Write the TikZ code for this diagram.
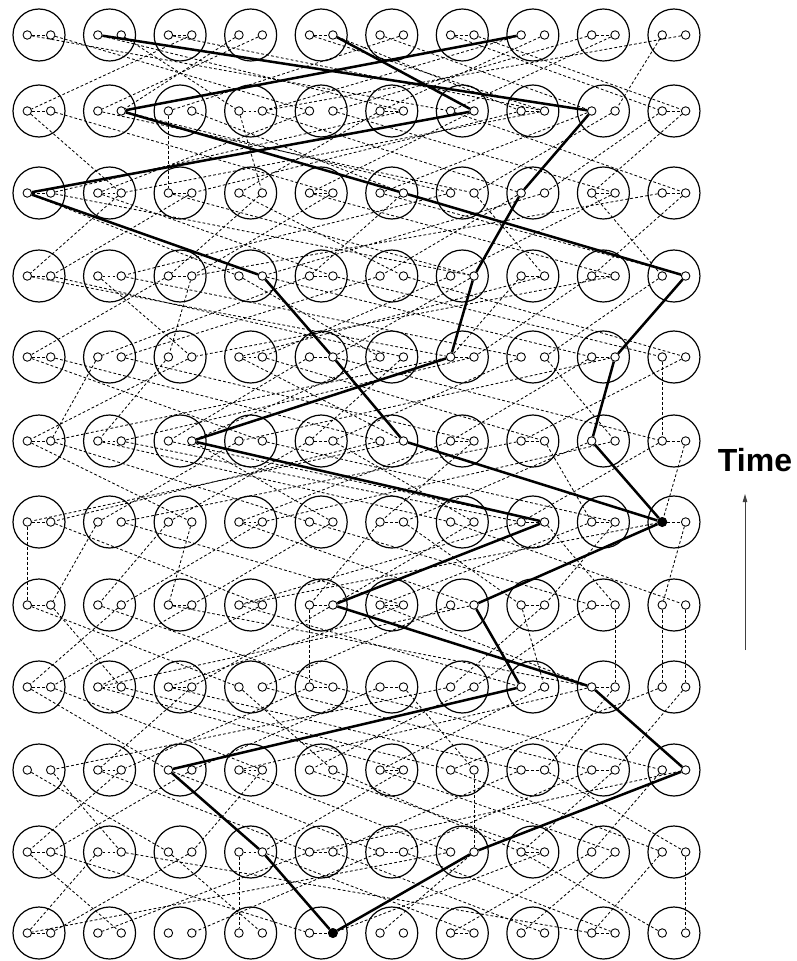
\documentclass[tikz,border=0pt]{standalone}
\usepackage{fontspec}
\setsansfont{Liberation Sans}
\usepackage{tikz}
\usetikzlibrary{arrows.meta}
\tikzset{
  host/.style={circle,draw,line width=1.2pt,minimum size=52pt,inner sep=0pt},
  proc/.style={circle,draw,line width=0.9pt,minimum size=8.5pt,inner sep=0pt},
  hit/.style={circle,fill,minimum size=10pt,inner sep=0pt},
  msg/.style={line width=0.85pt,dash pattern=on 2.8pt off 2.2pt},
  route/.style={line width=2.5pt,line join=round},
}

\begin{document}
\begin{tikzpicture}[x=1pt,y=-1pt]
  \useasboundingbox (0,0) rectangle (797,961);
  % grid of hosts, two processes each
  \foreach \y [count=\r] in {35,111,193,276,357,441,522,605,687,770,852,933} {
    \foreach \c in {1,...,10} {
      \pgfmathsetmacro\x{39+70.55*(\c-1)}
      \pgfmathtruncatemacro\kl{2*\c-1}
      \pgfmathtruncatemacro\kr{2*\c}
      \node[host] (h-\r-\c) at (\x,\y) {};
      \node[proc] (p-\r-\kl) at (\x-11.7,\y) {};
      \node[proc] (p-\r-\kr) at (\x+11.7,\y) {};
    }
  }
  \node[hit] (src) at (p-12-10) {};
  \node[hit] (relay) at (p-7-19) {};

  % messages inside one host
  \foreach \r/\c in {1/1,1/3,1/5,1/7,1/9,2/1,2/4,2/6,2/8,2/10,3/1,3/2,3/3,3/5,3/9,3/10,
      4/1,4/2,4/3,4/5,4/8,4/9,5/1,5/4,5/5,5/7,5/9,6/1,6/2,6/5,6/7,6/8,6/10,
      7/1,7/4,7/6,7/8,7/9,7/10,8/1,8/3,8/5,8/6,8/8,8/9,9/1,9/2,9/3,9/5,9/6,9/9,
      10/2,10/4,10/6,10/8,10/9,11/1,11/2,11/4,11/5,11/6,11/8,12/1,12/5,12/7,12/9} {
    \pgfmathtruncatemacro\kl{2*\c-1}
    \pgfmathtruncatemacro\kr{2*\c}
    \draw[msg] (p-\r-\kl) -- (p-\r-\kr);
  }

  % messages between rounds
  \foreach \a/\b in {2/9,3/12,4/7,6/1,7/4,9/16,10/15,12/5,14/20,15/8,16/11,17/10,18/13,19/18,20/8,1/13,5/16,8/3,11/17,13/19}
    \draw[msg] (p-1-\a) -- (p-2-\b);
  \foreach \a/\b in {1/4,2/10,3/14,4/13,5/5,6/12,8/15,9/3,10/18,11/7,12/2,13/20,14/9,15/6,16/4,17/11,18/14,19/16,20/17,7/8}
    \draw[msg] (p-2-\a) -- (p-3-\b);
  \foreach \a/\b in {1/7,2/14,3/10,4/1,5/14,6/2,7/12,8/5,9/18,10/6,11/20,12/9,13/4,14/16,15/11,16/8,17/19,18/13,19/6,20/17}
    \draw[msg] (p-3-\a) -- (p-4-\b);
  \foreach \a/\b in {6/5,1/13,2/12,3/6,4/15,5/1,7/11,8/17,9/3,10/19,11/4,12/20,13/8,14/10,15/13,16/7,17/14,18/6,19/16,20/18}
    \draw[msg] (p-4-\a) -- (p-5-\b);
  \foreach \a/\b in {3/2,5/3,1/8,2/11,4/14,6/1,7/12,8/16,9/5,10/19,11/6,12/9,13/2,14/4,15/10,16/18,17/13,18/7,19/19,20/15}
    \draw[msg] (p-5-\a) -- (p-6-\b);
  \foreach \a/\b in {1/6,2/9,3/13,4/15,5/16,6/10,7/3,8/18,9/5,10/14,11/2,12/1,13/7,14/11,15/4,16/17,17/12,18/8,19/15,20/19}
    \draw[msg] (p-6-\a) -- (p-7-\b);
  \foreach \a/\b in {1/1,3/2,5/3,2/8,4/12,6/5,7/14,8/4,9/17,10/6,11/9,12/15,13/20,14/10,15/7,16/18,17/11,18/16,19/7,20/19}
    \draw[msg] (p-7-\a) -- (p-8-\b);
  \foreach \a/\b in {19/19,20/20,9/9,1/7,2/4,3/10,4/1,5/17,6/2,7/15,8/3,10/6,11/17,12/5,13/8,14/3,15/16,16/13,17/14,18/18}
    \draw[msg] (p-8-\a) -- (p-9-\b);
  \foreach \a/\b in {1/5,2/8,3/12,4/13,5/15,6/3,7/10,8/17,9/4,10/19,11/6,12/14,13/2,14/9,15/5,16/11,17/7,18/16,19/13,20/18}
    \draw[msg] (p-9-\a) -- (p-10-\b);
  \foreach \a/\b in {14/14,1/5,2/4,3/9,4/1,5/11,6/2,7/13,8/6,9/16,10/15,11/18,12/8,13/19,15/10,16/20,17/12,18/15,19/17,20/9}
    \draw[msg] (p-10-\a) -- (p-11-\b);
  \foreach \a/\b in {20/20,7/7,5/8,1/4,2/9,3/1,4/17,6/2,8/14,9/3,10/16,11/6,12/18,13/1,14/11,15/19,16/10,17/13,18/15,19/17}
    \draw[msg] (p-11-\a) -- (p-12-\b);

  % spreading of the update
  \draw[route] (p-1-3) -- (p-2-17) -- (p-3-15) -- (p-4-14) -- (p-5-13) -- (p-6-6)
    -- (p-7-16) -- (p-8-10) -- (p-9-17) -- (p-10-20) -- (p-11-14) -- (src)
    -- (p-11-8) -- (p-10-5) -- (p-9-15) -- (p-8-14) -- (relay) -- (p-6-12)
    -- (p-5-10) -- (p-4-8) -- (p-3-1) -- (p-2-14) -- (p-1-10);
  \draw[route] (relay) -- (p-6-17) -- (p-5-18) -- (p-4-20) -- (p-3-12) -- (p-2-4) -- (p-1-15);

  % time axis
  \node[font=\sffamily\bfseries\fontsize{32}{36}\selectfont] (time) at (755,460) {Time};
  \coordinate (t0) at (745,650);
  \coordinate (t1) at (745,494);
  \draw[line width=0.9pt,black!75,-{Triangle[length=8pt,width=4.5pt]}] (t0) -- (t1);
\end{tikzpicture}
\end{document}
